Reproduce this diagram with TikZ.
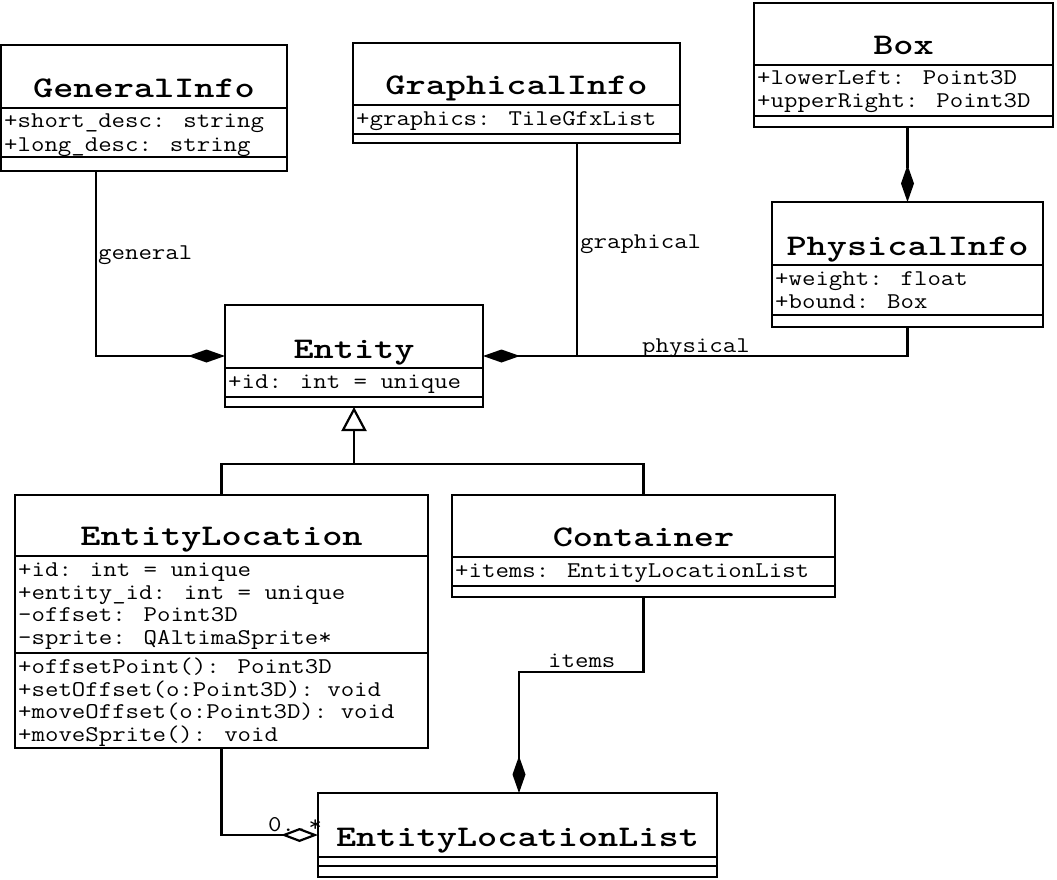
\documentclass[tikz,border=0pt]{standalone}
\usepackage{fontspec}
\newfontfamily\monof[FakeStretch=1.16]{Latin Modern Mono}
\newfontfamily\monob[FakeStretch=1.28]{lmmonolt10-bold.otf}
\usetikzlibrary{arrows.meta}
\tikzset{
  clsbox/.style={draw, line width=2.4pt, inner sep=0pt, outer sep=0pt, fill=white},
  sepline/.style={line width=2pt},
  conn/.style={line width=2.2pt},
  nametext/.style={font=\monob\fontsize{30}{32}\selectfont, inner sep=0pt, anchor=base},
  attrtext/.style={font=\monof\fontsize{22.5}{23}\selectfont, inner sep=0pt, anchor=base west},
  lbltext/.style={font=\monof\fontsize{22.5}{23}\selectfont, inner sep=0pt, anchor=base west},
  comp/.style={-{Diamond[length=37pt,width=13pt]}},
  aggr/.style={-{Diamond[open,length=37pt,width=14pt,fill=white]}},
  inherit/.style={-{Triangle[open,length=24pt,width=25pt,fill=white]}},
}
\newcommand{\umlcls}[7]{%
  \node[clsbox, minimum width={(#4)-(#2)}, minimum height={(#7)-(#3)}] (#1) at ({((#2)+(#4))/2},{((#3)+(#7))/2}) {};
  \draw[sepline] (#2,#5) -- (#4,#5);
  \draw[sepline] (#2,#6) -- (#4,#6);
}
\begin{document}
\begin{tikzpicture}[x=1pt,y=-1pt]
\useasboundingbox (0,0) rectangle (1057,880);
% classes
\umlcls{gi}{1}{45}{287}{108}{157}{171}
\node[nametext] (gi-n) at (144,98) {GeneralInfo};
\node[attrtext] (gi-a1) at (4,128) {+short\_desc: string};
\node[attrtext] (gi-a2) at (4,151) {+long\_desc: string};

\umlcls{gr}{353}{43}{680}{105}{134}{143}
\node[nametext] (gr-n) at (516.5,95) {GraphicalInfo};
\node[attrtext] (gr-a1) at (356,125) {+graphics: TileGfxList};

\umlcls{box}{754}{3}{1053}{65}{116}{127}
\node[nametext] (box-n) at (903.5,55) {Box};
\node[attrtext] (box-a1) at (757,85) {+lowerLeft: Point3D};
\node[attrtext] (box-a2) at (757,108) {+upperRight: Point3D};

\umlcls{ph}{772}{202}{1043}{265}{315}{327}
\node[nametext] (ph-n) at (907.5,255) {PhysicalInfo};
\node[attrtext] (ph-a1) at (775,285) {+weight: float};
\node[attrtext] (ph-a2) at (775,308) {+bound: Box};

\umlcls{ent}{225}{305}{483}{368}{397}{407}
\node[nametext] (ent-n) at (354,358) {Entity};
\node[attrtext] (ent-a1) at (228,388) {+id: int = unique};

\umlcls{el}{15}{495}{428}{556}{653}{748}
\node[nametext] (el-n) at (221.5,545) {EntityLocation};
\node[attrtext] (el-a1) at (18,576.5) {+id: int = unique};
\node[attrtext] (el-a2) at (18,599) {+entity\_id: int = unique};
\node[attrtext] (el-a3) at (18,621.5) {-offset: Point3D};
\node[attrtext] (el-a4) at (18,644) {-sprite: QAltimaSprite*};
\node[attrtext] (el-m1) at (18,673.5) {+offsetPoint(): Point3D};
\node[attrtext] (el-m2) at (18,696) {+setOffset(o:Point3D): void};
\node[attrtext] (el-m3) at (18,718.5) {+moveOffset(o:Point3D): void};
\node[attrtext] (el-m4) at (18,741) {+moveSprite(): void};

\umlcls{cont}{452}{495}{835}{557}{586}{597}
\node[nametext] (cont-n) at (643.5,546) {Container};
\node[attrtext] (cont-a1) at (455,577) {+items: EntityLocationList};

\umlcls{ell}{318}{793}{717}{857}{866}{877}
\node[nametext] (ell-n) at (517.5,846) {EntityLocationList};

% connectors
\draw[conn,comp] ([xshift=95pt]gi.south west) |- (ent.west);
\node[lbltext] (lbl-gen) at (98,259) {general};

\coordinate (jgr) at ([xshift=60.5pt]gr.south |- ent.east);
\draw[conn,comp] ([xshift=60.5pt]gr.south) -- (jgr) -- (ent.east);
\draw[conn] (ph.south) |- (jgr);
\node[lbltext] (lbl-gra) at (580,248) {graphical};
\node[lbltext] (lbl-phy) at (642,352) {physical};

\draw[conn,comp] (ph.north |- box.south) -- (ph.north);

\coordinate (inh) at (ent.south |- 0,464);
\draw[conn] (el.north) |- (inh) -| (cont.north);
\draw[conn,inherit] (inh) -- (ent.south);

\draw[conn,comp] (cont.south) -- ++(0,75) -| ([xshift=1.5pt]ell.north);
\node[lbltext] (lbl-items) at (548,667) {items};

\node[lbltext] (lbl-mult) at (268,831) {0..*};
\draw[conn,aggr] (el.south) |- (ell.west);
\end{tikzpicture}
\end{document}
